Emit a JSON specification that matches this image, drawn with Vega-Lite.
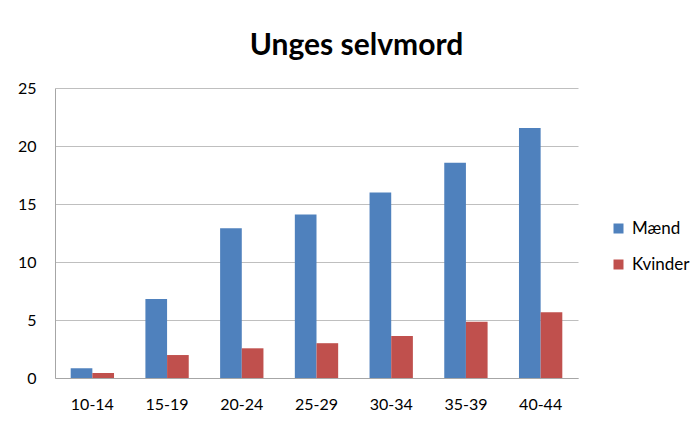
{
  "$schema": "https://vega.github.io/schema/vega-lite/v6.json",
  "autosize": "none",
  "width": 523,
  "height": 290,
  "padding": {"left": 55, "top": 88, "right": 118, "bottom": 45},
  "background": "white",
  "title": {
    "text": "Unges selvmord",
    "font": "Lato",
    "fontSize": 30,
    "fontWeight": "bold",
    "color": "#000000",
    "anchor": "middle",
    "dx": 40,
    "offset": 19
  },
  "data": {
    "values": [
      {"alder": "10-14", "køn": "Mænd", "antal": 0.84},
      {"alder": "10-14", "køn": "Kvinder", "antal": 0.43},
      {"alder": "15-19", "køn": "Mænd", "antal": 6.8},
      {"alder": "15-19", "køn": "Kvinder", "antal": 1.98},
      {"alder": "20-24", "køn": "Mænd", "antal": 12.9},
      {"alder": "20-24", "køn": "Kvinder", "antal": 2.56},
      {"alder": "25-29", "køn": "Mænd", "antal": 14.1},
      {"alder": "25-29", "køn": "Kvinder", "antal": 3.0},
      {"alder": "30-34", "køn": "Mænd", "antal": 16.0},
      {"alder": "30-34", "køn": "Kvinder", "antal": 3.62},
      {"alder": "35-39", "køn": "Mænd", "antal": 18.56},
      {"alder": "35-39", "køn": "Kvinder", "antal": 4.85},
      {"alder": "40-44", "køn": "Mænd", "antal": 21.55},
      {"alder": "40-44", "køn": "Kvinder", "antal": 5.66}
    ]
  },
  "mark": {"type": "bar"},
  "encoding": {
    "x": {
      "field": "alder",
      "type": "nominal",
      "title": null,
      "scale": {"paddingInner": 0.42, "paddingOuter": 0.21},
      "axis": {
        "labelAngle": 0,
        "labelFont": "Lato",
        "labelFontSize": 16,
        "labelColor": "#000000",
        "labelPadding": 18,
        "ticks": false,
        "domainColor": "#a6a6a6",
        "grid": false
      }
    },
    "xOffset": {"field": "køn", "type": "nominal", "sort": ["Mænd", "Kvinder"]},
    "y": {
      "field": "antal",
      "type": "quantitative",
      "title": null,
      "scale": {"domain": [0, 25], "nice": false},
      "axis": {
        "values": [0, 5, 10, 15, 20, 25],
        "labelFont": "Lato",
        "labelFontSize": 16,
        "labelColor": "#000000",
        "labelPadding": 19,
        "ticks": false,
        "domainColor": "#a6a6a6",
        "gridColor": "#bfbfbf",
        "gridWidth": 1
      }
    },
    "color": {
      "field": "køn",
      "type": "nominal",
      "sort": ["Mænd", "Kvinder"],
      "scale": {"domain": ["Mænd", "Kvinder"], "range": ["#4F81BD", "#C0504D"]},
      "legend": {
        "title": null,
        "orient": "none",
        "legendX": 555,
        "legendY": 132,
        "symbolType": "square",
        "symbolSize": 100,
        "symbolStrokeWidth": 0,
        "labelFont": "Lato",
        "labelFontSize": 17,
        "labelColor": "#000000",
        "labelOffset": 5,
        "rowPadding": 18
      }
    }
  },
  "config": {
    "view": {"stroke": null}
  }
}
